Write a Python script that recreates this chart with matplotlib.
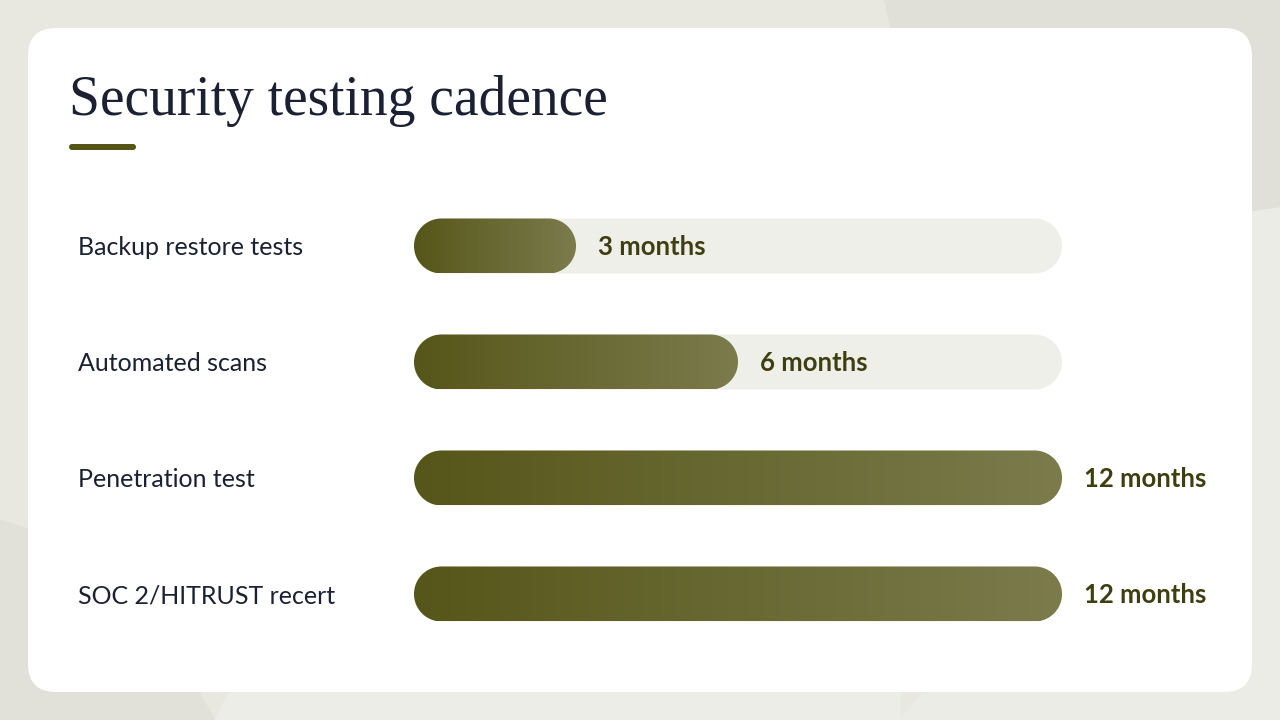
import numpy as np
import matplotlib
matplotlib.use('Agg')
import matplotlib.pyplot as plt
from matplotlib.patches import FancyBboxPatch, Polygon

# data
categories = ['Backup restore tests', 'Automated scans', 'Penetration test', 'SOC 2/HITRUST recert']
months = [3, 6, 12, 12]
value_labels = ['3 months', '6 months', '12 months', '12 months']
max_months = 12

title = 'Security testing cadence'

W, H = 1280, 720
fig = plt.figure(figsize=(W / 100, H / 100), dpi=100)

# background in pixel coords
bg = fig.add_axes([0, 0, 1, 1])
bg.set_xlim(0, W)
bg.set_ylim(H, 0)
bg.axis('off')
bg.add_patch(plt.Rectangle((0, 0), W, H, color='#e8e8e1', zorder=0))
bg.add_patch(Polygon([(885, 0), (W, 0), (W, 215), (1180, 222), (1000, 240), (910, 120)],
                     color='#e0e0d9', zorder=0.5))
bg.add_patch(Polygon([(1180, 222), (W, 208), (W, H), (900, H), (1000, 600)],
                     color='#ecece6', zorder=0.5))
bg.add_patch(Polygon([(0, 520), (120, 560), (215, H), (0, H)],
                     color='#e1e1da', zorder=0.5))
bg.add_patch(Polygon([(215, H), (230, 690), (900, 690), (900, H)],
                     color='#edede7', zorder=0.5))
card = FancyBboxPatch((28, 28), 1224, 664, boxstyle='round,pad=0,rounding_size=28',
                      fc='white', ec='none', zorder=1)
bg.add_patch(card)

bg.text(69, 115, title, fontsize=40, family='Liberation Serif', color='#1b2133',
        va='baseline', ha='left', zorder=2)
bg.add_patch(FancyBboxPatch((69, 144), 67, 6, boxstyle='round,pad=0,rounding_size=3',
                            fc='#555516', ec='none', zorder=2))

# bar axes: 0..12 months over 648 px, rows 116 px apart
left_px, width_px = 414, 648
top_px, row_px = 188, 116
n = len(categories)
ax = fig.add_axes([left_px / W, 1 - (top_px + n * row_px) / H, width_px / W, n * row_px / H])
ax.set_xlim(0, max_months)
ax.set_ylim(n - 0.5, -0.5)
ax.axis('off')

bar_h = 55 / row_px
to_px = ax.transData + bg.transData.inverted()

grad = np.linspace(0, 1, 256).reshape(1, -1)
cmap = matplotlib.colors.LinearSegmentedColormap.from_list('olive', ['#56561a', '#7b7b4c'])


def pill(x0, x1, y, **kw):
    # stadium shape with true semicircular ends, in pixel space
    (px0, py0), (px1, py1) = to_px.transform([(x0, y - bar_h / 2), (x1, y + bar_h / 2)])
    ylo, yhi = min(py0, py1), max(py0, py1)
    rad = (yhi - ylo) / 2
    yc = (ylo + yhi) / 2
    t = np.linspace(-np.pi / 2, np.pi / 2, 60)
    right = np.column_stack([px1 - rad + rad * np.cos(t), yc + rad * np.sin(t)])
    left = np.column_stack([px0 + rad - rad * np.cos(t), yc - rad * np.sin(t)])
    p = Polygon(np.vstack([right, left]), closed=True, **kw)
    bg.add_patch(p)
    return p, (px0, px1, ylo, yhi)


for i, (cat, v, lab) in enumerate(zip(categories, months, value_labels)):
    pill(0, max_months, i, fc='#efefea', ec='none', zorder=2)
    fill, (x0, x1, ylo, yhi) = pill(0, v, i, fc='none', ec='none', zorder=3)
    im = bg.imshow(grad, cmap=cmap, extent=[x0, x1, yhi, ylo],
                   aspect='auto', interpolation='bicubic', zorder=3)
    im.set_clip_path(fill)
    (lx, ly), = to_px.transform([(v, i)])
    bg.text(lx + 22, ly + 9, lab, fontsize=18.5, family='Lato', weight='bold',
            color='#3e3e10', va='baseline', ha='left', zorder=4)
    bg.text(78, ly + 9, cat, fontsize=18, family='Lato', color='#1b2133',
            va='baseline', ha='left', zorder=4)

bg.set_xlim(0, W)
bg.set_ylim(H, 0)

fig.savefig('out.png', dpi=100)
